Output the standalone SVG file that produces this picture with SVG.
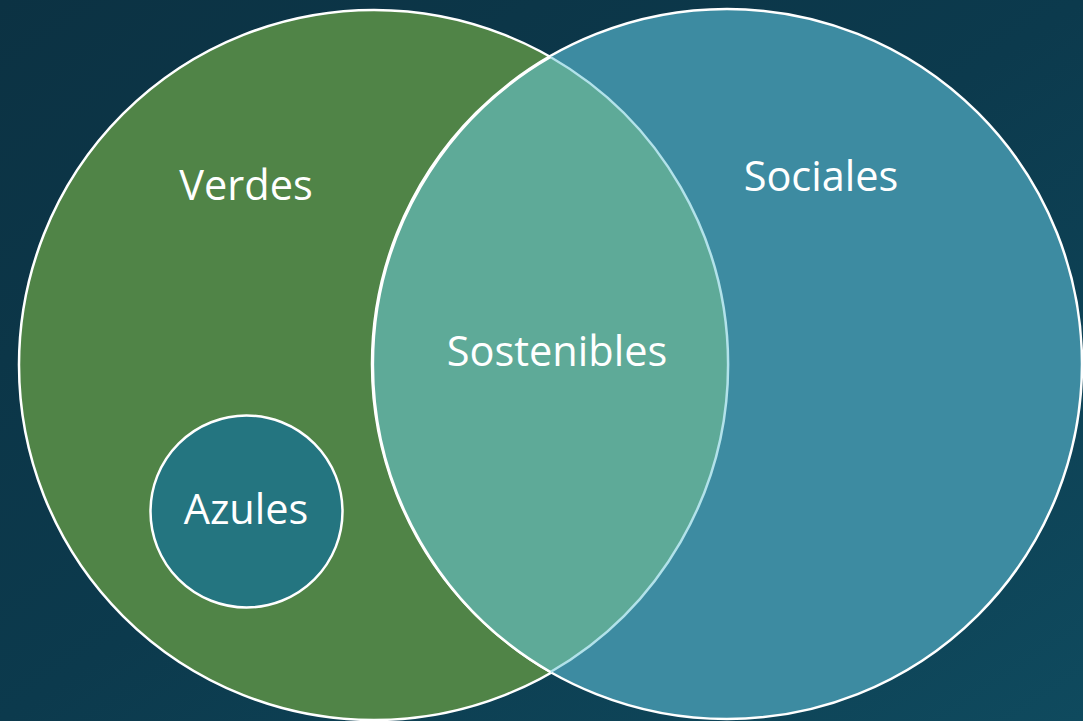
<svg xmlns="http://www.w3.org/2000/svg" width="1083" height="721" viewBox="0 0 1083 721">
<defs>
<linearGradient id="bg" x1="0" y1="0" x2="1" y2="1">
<stop offset="0" stop-color="#0c3243"/>
<stop offset="0.5" stop-color="#0c3a4d"/>
<stop offset="1" stop-color="#0f4a5e"/>
</linearGradient>
<style>
.lbl{font-family:"Open Sans","Liberation Sans",sans-serif;font-size:41.5px;fill:#ffffff;text-anchor:middle}
.edge{stroke:#ffffff;stroke-width:2.5}
</style>
</defs>
<rect width="1083" height="721" fill="url(#bg)"/>
<g id="verdes">
<circle cx="374" cy="365" r="355" fill="#508447" class="edge"/>
<text class="lbl" x="246" y="200">Verdes</text>
</g>
<g id="sociales">
<circle cx="727" cy="364" r="355" fill="#3d8ba1" class="edge"/>
<text class="lbl" x="821" y="191">Sociales</text>
</g>
<g id="sostenibles">
<path d="M550.5 57 A355 355 0 0 0 550.5 672 A355 355 0 0 0 550.5 57 Z" fill="#5eaa98"/>
<path d="M550.5 57 A355 355 0 0 1 550.5 672" fill="none" stroke="#b2e2ea" stroke-width="2.5"/>
<path d="M550.5 57 A355 355 0 0 0 550.5 672" fill="none" class="edge"/>
<text class="lbl" x="557" y="366">Sostenibles</text>
</g>
<g id="azules">
<circle cx="246.5" cy="511.5" r="96" fill="#247580" class="edge"/>
<text class="lbl" x="246" y="524">Azules</text>
</g>
<g id="connectors"/>
</svg>
